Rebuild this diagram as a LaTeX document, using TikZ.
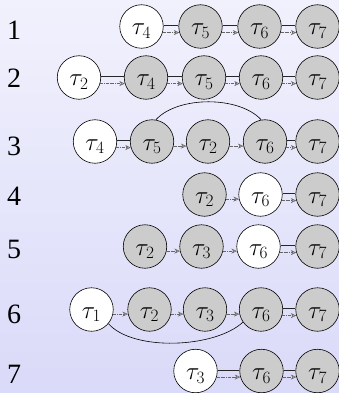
\documentclass[tikz,border=0pt]{standalone}
\usepackage{fontspec}
\setmainfont{Liberation Serif}
\usetikzlibrary{arrows.meta}
\definecolor{bgtop}{RGB}{241,241,253}
\definecolor{bgbot}{RGB}{218,218,249}
\definecolor{nodegray}{RGB}{204,204,204}
\tikzset{
  task/.style={circle, draw=black, line width=0.6pt, minimum size=43.5pt, inner sep=0pt,
    text height=17pt, text depth=0pt, font=\fontsize{25}{30}\selectfont},
  done/.style={task, fill=nodegray},
  free/.style={task, fill=white},
  rowlbl/.style={anchor=base, inner sep=0pt, font=\fontsize{28}{32}\selectfont},
  link/.style={draw=black!85, line width=0.6pt},
  dep/.style={draw=black!60, line width=0.5pt, densely dashdotted,
    -{Stealth[length=5.5pt,width=5pt,fill=black!30]}},
  arcline/.style={draw=black, line width=0.6pt}
}
\begin{document}
\begin{tikzpicture}[x=1pt,y=-1pt]
\shade[top color=bgtop, bottom color=bgbot] (0,0) rectangle (339,393);
\useasboundingbox (0,0) rectangle (339,393);

% row labels
\node[rowlbl] (l1) at (14,40) {1};
\node[rowlbl] (l2) at (14,88) {2};
\node[rowlbl] (l3) at (14,155) {3};
\node[rowlbl] (l4) at (14,205) {4};
\node[rowlbl] (l5) at (14,258) {5};
\node[rowlbl] (l6) at (14,323) {6};
\node[rowlbl] (l7) at (14,383) {7};

% row 1
\node[free] (a4) at (141.5,26.5) {$\tau_4$};
\node[done] (a5) at (200.5,26.5) {$\tau_5$};
\node[done] (a6) at (259.5,26.5) {$\tau_6$};
\node[done] (a7) at (317.5,26.5) {$\tau_7$};
% row 2
\node[free] (b2) at (79,77.5) {$\tau_2$};
\node[done] (b4) at (146,77.5) {$\tau_4$};
\node[done] (b5) at (204,77.5) {$\tau_5$};
\node[done] (b6) at (261,77.5) {$\tau_6$};
\node[done] (b7) at (317.5,77.5) {$\tau_7$};
% row 3
\node[free] (c4) at (95,141.5) {$\tau_4$};
\node[done] (c5) at (152,141.5) {$\tau_5$};
\node[done] (c2) at (208,141.5) {$\tau_2$};
\node[done] (c6) at (265,141.5) {$\tau_6$};
\node[done] (c7) at (317.5,141.5) {$\tau_7$};
% row 4
\node[done] (d2) at (204.5,194.5) {$\tau_2$};
\node[free] (d6) at (260.5,194.5) {$\tau_6$};
\node[done] (d7) at (317.5,194.5) {$\tau_7$};
% row 5
\node[done] (e2) at (145,246.5) {$\tau_2$};
\node[done] (e3) at (201.5,246.5) {$\tau_3$};
\node[free] (e6) at (258.5,246.5) {$\tau_6$};
\node[done] (e7) at (317.5,246.5) {$\tau_7$};
% row 6
\node[free] (f1) at (91.5,309.5) {$\tau_1$};
\node[done] (f2) at (149.5,309.5) {$\tau_2$};
\node[done] (f3) at (205,309.5) {$\tau_3$};
\node[done] (f6) at (261,309.5) {$\tau_6$};
\node[done] (f7) at (317.5,309.5) {$\tau_7$};
% row 7
\node[free] (g3) at (195.5,371) {$\tau_3$};
\node[done] (g6) at (261.5,371) {$\tau_6$};
\node[done] (g7) at (317.5,371) {$\tau_7$};

% double connectors (solid link + dependency arrow)
\foreach \u/\v in {a4/a5,a5/a6,a6/a7,b2/b4,b4/b5,b5/b6,b6/b7,c4/c5,c6/c7,d6/d7,e6/e7,f6/f7,g3/g6,g6/g7}{
  \draw[link] (\u.3) -- (\v.177);
  \draw[dep] (\u.-16) -- (\v.196);
}
% dependency arrows only
\foreach \u/\v in {c5/c2,c2/c6,d2/d6,e2/e3,e3/e6,f1/f2,f2/f3,f3/f6}{
  \draw[dep] (\u.-12) -- (\v.192);
}

% arcs
\draw[arcline] (c5.80) .. controls +(22,-24) and +(-22,-24) .. (c6.100);
\draw[arcline] (f1.-40) .. controls +(25,28) and +(-28,26) .. (f6.-145);
\end{tikzpicture}
\end{document}
